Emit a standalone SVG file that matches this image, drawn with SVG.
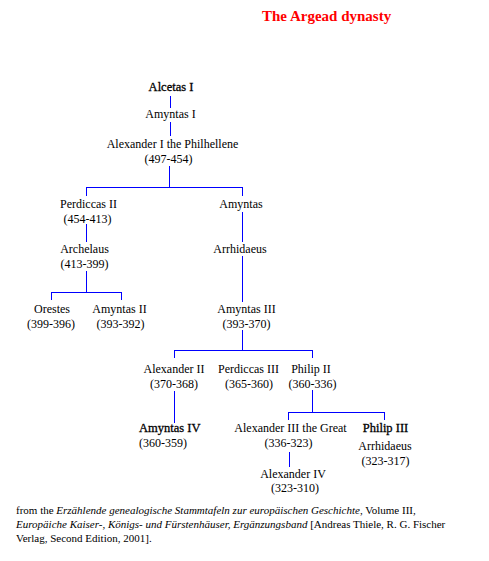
<svg xmlns="http://www.w3.org/2000/svg" width="489" height="561" viewBox="0 0 489 561">
<style>
text{font-family:"Liberation Serif","Times New Roman",serif;font-size:12px;fill:#000;text-anchor:middle}
.b{font-size:12.5px;stroke:#000;stroke-width:0.3}
.l{text-anchor:start}
.title{font-size:15px;font-weight:bold;fill:#ff0000;text-anchor:start}
.foot{font-size:11px;text-anchor:start}
#connectors line{stroke:#0000ff;stroke-width:1;fill:none}
</style>
<rect width="489" height="561" fill="#fff"/>
<text class="title" x="262" y="21">The Argead dynasty</text>
<g id="connectors">
<line x1="170.5" y1="96" x2="170.5" y2="108"/>
<line x1="170.5" y1="122" x2="170.5" y2="136"/>
<line x1="169.5" y1="166" x2="169.5" y2="187.5"/>
<line x1="86" y1="187.5" x2="243" y2="187.5"/>
<line x1="86.5" y1="187" x2="86.5" y2="196"/>
<line x1="242.5" y1="187" x2="242.5" y2="196"/>
<line x1="86.5" y1="224" x2="86.5" y2="242"/>
<line x1="86.5" y1="271" x2="86.5" y2="292.5"/>
<line x1="51" y1="292.5" x2="122" y2="292.5"/>
<line x1="51.5" y1="292" x2="51.5" y2="300"/>
<line x1="121.5" y1="292" x2="121.5" y2="300"/>
<line x1="242.5" y1="212" x2="242.5" y2="242"/>
<line x1="242.5" y1="256" x2="242.5" y2="302"/>
<line x1="242.5" y1="330" x2="242.5" y2="350.5"/>
<line x1="174" y1="350.5" x2="313" y2="350.5"/>
<line x1="174.5" y1="350" x2="174.5" y2="358"/>
<line x1="312.5" y1="350" x2="312.5" y2="358"/>
<line x1="174.5" y1="391" x2="174.5" y2="423"/>
<line x1="312.5" y1="390" x2="312.5" y2="412.5"/>
<line x1="288" y1="412.5" x2="385" y2="412.5"/>
<line x1="288.5" y1="412" x2="288.5" y2="420"/>
<line x1="384.5" y1="412" x2="384.5" y2="420"/>
<line x1="289.5" y1="452" x2="289.5" y2="467"/>
</g>
<g id="alcetas1"><text class="b" x="171" y="91">Alcetas I</text></g>
<g id="amyntas1"><text x="170.5" y="118">Amyntas I</text></g>
<g id="alexander1"><text x="172.5" y="148">Alexander I the Philhellene</text><text x="168.5" y="163">(497-454)</text></g>
<g id="perdiccas2"><text x="88.5" y="208">Perdiccas II</text><text x="87.5" y="223">(454-413)</text></g>
<g id="amyntas"><text x="241" y="208">Amyntas</text></g>
<g id="archelaus"><text x="84.5" y="253">Archelaus</text><text x="84.5" y="268">(413-399)</text></g>
<g id="arrhidaeus"><text x="240" y="253">Arrhidaeus</text></g>
<g id="orestes"><text x="52" y="313">Orestes</text><text x="51" y="328">(399-396)</text></g>
<g id="amyntas2"><text x="119.5" y="313">Amyntas II</text><text x="120.5" y="328">(393-392)</text></g>
<g id="amyntas3"><text x="246.5" y="313">Amyntas III</text><text x="246.5" y="328">(393-370)</text></g>
<g id="alexander2"><text x="174" y="373">Alexander II</text><text x="174" y="388">(370-368)</text></g>
<g id="perdiccas3"><text x="248.5" y="373">Perdiccas III</text><text x="249" y="388">(365-360)</text></g>
<g id="philip2"><text x="311" y="373">Philip II</text><text x="312.5" y="388">(360-336)</text></g>
<g id="amyntas4"><text class="b l" x="139" y="432">Amyntas IV</text><text class="l" x="139" y="447">(360-359)</text></g>
<g id="alexander3"><text x="290.5" y="432">Alexander III the Great</text><text x="288.5" y="447">(336-323)</text></g>
<g id="philip3"><text class="b" x="385.5" y="432">Philip III</text><text x="385" y="450">Arrhidaeus</text><text x="385.5" y="465">(323-317)</text></g>
<g id="alexander4"><text x="293" y="478">Alexander IV</text><text x="295" y="492">(323-310)</text></g>
<text class="foot" x="16" y="514">from the <tspan font-style="italic">Erzählende genealogische Stammtafeln zur europäischen Geschichte</tspan>, Volume III,</text>
<text class="foot" x="16" y="528"><tspan font-style="italic">Europäiche Kaiser-, Königs- und Fürstenhäuser, Ergänzungsband</tspan> [Andreas Thiele, R. G. Fischer</text>
<text class="foot" x="16" y="542">Verlag, Second Edition, 2001].</text>
</svg>
